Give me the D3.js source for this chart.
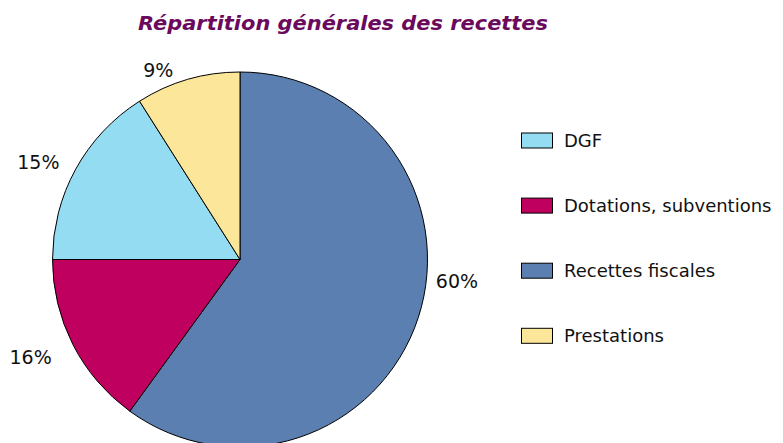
<!DOCTYPE html>
<html>
<head>
<meta charset="utf-8">
<script src="https://cdn.jsdelivr.net/npm/d3@7"></script>
<style>
  body { margin: 0; background: #fff; }
  svg { display: block; font-family: "DejaVu Sans", "Open Sans", sans-serif; }
</style>
</head>
<body>
<div id="chart"></div>
<script>
// Slices in drawing order, clockwise from 12 o'clock
const sliceNames = ['Recettes fiscales', 'Dotations, subventions', 'DGF', 'Prestations'];
// shares as drawn in the picture (angles)
const sliceShares = [60, 15, 16, 9];
// percentages as printed next to the slices
const sliceLabels = ['60%', '16%', '15%', '9%'];
// Legend order
const legendNames = ['DGF', 'Dotations, subventions', 'Recettes fiscales', 'Prestations'];

const colors = {
    'DGF': '#94dcf2',
    'Dotations, subventions': '#c0005f',
    'Recettes fiscales': '#5b7fb1',
    'Prestations': '#fbe699'
};

// label nudges (angle in degrees, radius) relative to slice midpoint
const labelTweak = {
    'Recettes fiscales': { da: -12.3, r: 218 },
    'Dotations, subventions': { da: 2, r: 231 },
    'DGF': { da: -3, r: 224 },
    'Prestations': { da: -7.2, r: 206 }
};

const width = 783, height = 443;
const cx = 240, cy = 259.5, radius = 187.5;

const svg = d3.select('#chart').append('svg')
    .attr('width', width)
    .attr('height', height);

// Title
svg.append('text')
    .attr('x', 343)
    .attr('y', 30)
    .attr('text-anchor', 'middle')
    .attr('textLength', 410)
    .attr('lengthAdjust', 'spacingAndGlyphs')
    .style('font-size', '20px')
    .style('font-weight', 'bold')
    .style('font-style', 'italic')
    .style('fill', '#6b0a5c')
    .text('Répartition générales des recettes');

const data = sliceNames.map((name, i) => ({ name, value: sliceShares[i], label: sliceLabels[i] }));

const pie = d3.pie()
    .value(d => d.value)
    .sort(null);

const arc = d3.arc()
    .innerRadius(0)
    .outerRadius(radius);

const arcs = pie(data);

const g = svg.append('g')
    .attr('transform', `translate(${cx},${cy})`);

g.selectAll('path')
    .data(arcs)
    .enter().append('path')
    .attr('d', arc)
    .attr('fill', d => colors[d.data.name])
    .attr('stroke', '#000')
    .attr('stroke-width', 1);

// Percentage labels
g.selectAll('.pct')
    .data(arcs)
    .enter().append('text')
    .attr('class', 'pct')
    .each(function(d) {
        const t = labelTweak[d.data.name];
        const a = (d.startAngle + d.endAngle) / 2 + t.da * Math.PI / 180;
        d3.select(this)
            .attr('x', t.r * Math.sin(a))
            .attr('y', -t.r * Math.cos(a));
    })
    .attr('text-anchor', 'middle')
    .attr('dy', '0.36em')
    .style('font-size', '19px')
    .style('fill', '#111')
    .text(d => d.data.label);

// Legend
const legend = svg.append('g')
    .attr('transform', 'translate(521,140.5)');

const row = legend.selectAll('g')
    .data(legendNames)
    .enter().append('g')
    .attr('transform', (d, i) => `translate(0,${i * 65.1})`);

row.append('rect')
    .attr('x', 0.5)
    .attr('y', -7.5)
    .attr('width', 31)
    .attr('height', 15)
    .attr('fill', d => colors[d])
    .attr('stroke', '#000')
    .attr('stroke-width', 1);

row.append('text')
    .attr('x', 43)
    .attr('dy', '0.36em')
    .style('font-size', '18px')
    .style('fill', '#111')
    .text(d => d);
</script>
</body>
</html>
